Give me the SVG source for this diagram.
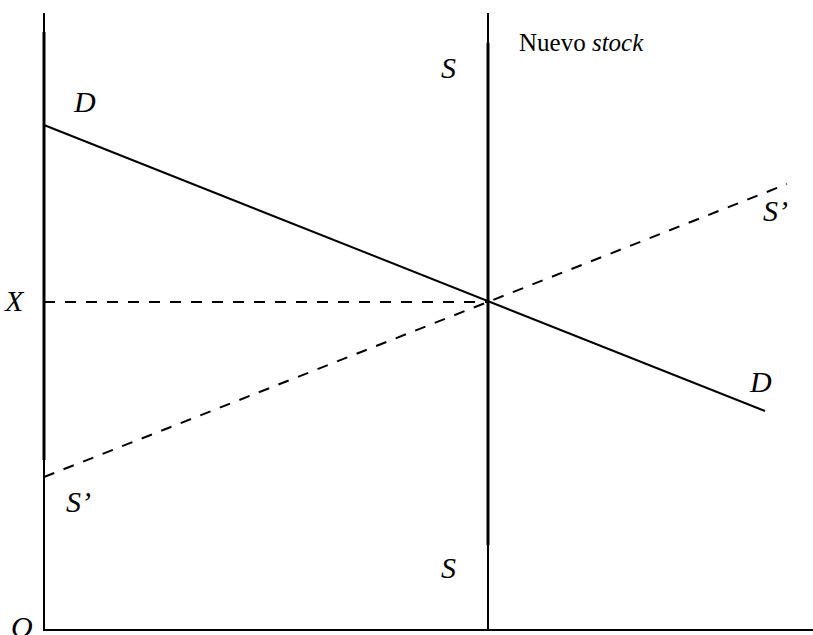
<svg xmlns="http://www.w3.org/2000/svg" width="813" height="635" viewBox="0 0 813 635">
<style>
.ax{stroke:#000;stroke-width:2;fill:none}
.ln{stroke:#000;stroke-width:2;fill:none}
.dash{stroke:#000;stroke-width:2;fill:none;stroke-dasharray:11 10}
.lbl{font-family:"Liberation Serif",serif;font-style:italic;font-size:30px;fill:#000}
.up{font-family:"Liberation Serif",serif;font-size:25px;fill:#000}
</style>
<rect width="813" height="635" fill="#fff"/>
<g id="axes">
<line class="ax" x1="44" y1="13" x2="44" y2="631"/>
<line class="ax" x1="43" y1="630" x2="813" y2="630"/>
<line x1="44" y1="32" x2="44" y2="460" stroke="#000" stroke-width="3"/>
</g>
<g id="connectors">
<line id="stock" x1="488" y1="13" x2="488" y2="630" stroke="#000" stroke-width="2"/>
<line x1="488" y1="43" x2="488" y2="545" stroke="#000" stroke-width="3"/>
<line id="demand" class="ln" x1="44" y1="125" x2="765" y2="411"/>
<line id="supply2" class="dash" x1="44" y1="477" x2="787" y2="184"/>
<line id="xlevel" class="dash" x1="44" y1="302" x2="488" y2="302" stroke-width="2.5" stroke-dasharray="12 10"/>
</g>
<g id="labels">
<text class="lbl" x="74" y="112">D</text>
<text class="lbl" x="441" y="78">S</text>
<text class="up" x="519" y="51">Nuevo <tspan font-style="italic">stock</tspan></text>
<text class="lbl" x="5" y="311">X</text>
<text class="lbl" x="763" y="221">S’</text>
<text class="lbl" x="750" y="392">D</text>
<text class="lbl" x="66" y="512">S’</text>
<text class="lbl" x="441" y="578">S</text>
<text class="lbl" x="11" y="637">O</text>
</g>
</svg>
